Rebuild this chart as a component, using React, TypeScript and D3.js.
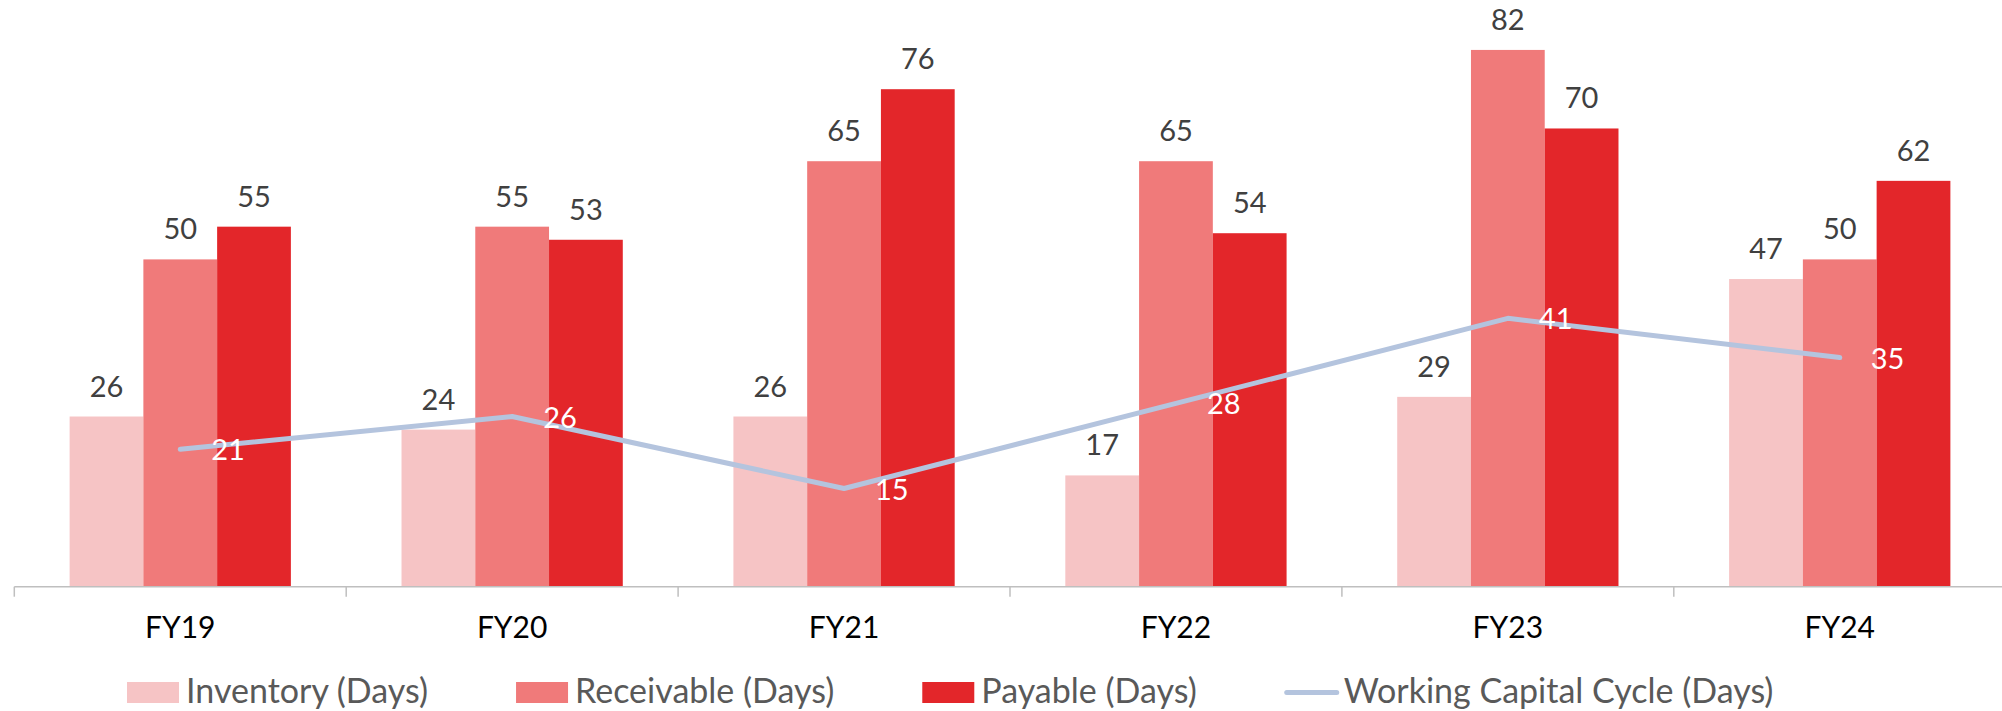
import { useEffect, useRef } from 'react';
import * as d3 from 'd3';

const categories = ['FY19', 'FY20', 'FY21', 'FY22', 'FY23', 'FY24'];
const inventoryDays = [26, 24, 26, 17, 29, 47];
const receivableDays = [50, 55, 65, 65, 82, 50];
const payableDays = [55, 53, 76, 54, 70, 62];
const wccDays = [21, 26, 15, 28, 41, 35];

const barSeries = [
  { key: 'inv', name: 'Inventory (Days)', values: inventoryDays, color: '#f6c4c5' },
  { key: 'rec', name: 'Receivable (Days)', values: receivableDays, color: '#f07a7a' },
  { key: 'pay', name: 'Payable (Days)', values: payableDays, color: '#e3262a' },
];
const lineName = 'Working Capital Cycle (Days)';
const lineColor = '#b4c4de';

const FONT = 'Lato, "Open Sans", sans-serif';

export default function App() {
  const svgRef = useRef<SVGSVGElement>(null);

  useEffect(() => {
    document.body.style.margin = '0';
    document.body.style.overflow = 'hidden';

    const W = 2002, H = 711;
    const svg = d3.select(svgRef.current);
    svg.selectAll('*').remove();
    svg.attr('width', W).attr('height', H).attr('viewBox', `0 0 ${W} ${H}`);

    const left = 14.3, step = 331.9;
    const baseY = 586.7;

    const x = d3.scaleBand<string>().domain(categories).range([left, left + step * categories.length]).padding(0);
    const xs = d3.scaleBand<string>()
      .domain(barSeries.map(s => s.key))
      .range([0, x.bandwidth()])
      .paddingInner(0)
      .paddingOuter(0.75);
    const y = d3.scaleLinear().domain([0, 90]).range([baseY, baseY - 90 * 6.546]);

    const g = svg.append('g');

    // bars
    barSeries.forEach(s => {
      g.selectAll(`rect.${s.key}`)
        .data(categories)
        .join('rect')
        .attr('class', s.key)
        .attr('x', c => x(c)! + xs(s.key)!)
        .attr('y', (c, i) => y(s.values[i]))
        .attr('width', xs.bandwidth())
        .attr('height', (c, i) => baseY - y(s.values[i]))
        .attr('fill', s.color);
    });

    // axis
    g.append('line')
      .attr('x1', left).attr('x2', W)
      .attr('y1', baseY).attr('y2', baseY)
      .attr('stroke', '#bfbfbf').attr('stroke-width', 1.5);
    d3.range(categories.length + 1).forEach(i => {
      const tx = left + step * i;
      g.append('line')
        .attr('x1', tx).attr('x2', tx)
        .attr('y1', baseY).attr('y2', baseY + 10)
        .attr('stroke', '#bfbfbf').attr('stroke-width', 1.5);
    });
    g.selectAll('text.cat')
      .data(categories)
      .join('text')
      .attr('class', 'cat')
      .attr('x', c => x(c)! + x.bandwidth() / 2)
      .attr('y', 638.3)
      .attr('text-anchor', 'middle')
      .attr('font-family', FONT).attr('font-size', 30).attr('fill', '#000')
      .text(c => c);

    // bar value labels
    barSeries.forEach(s => {
      g.selectAll(`text.lbl-${s.key}`)
        .data(categories)
        .join('text')
        .attr('class', `lbl-${s.key}`)
        .attr('x', c => x(c)! + xs(s.key)! + xs.bandwidth() / 2)
        .attr('y', (c, i) => y(s.values[i]) - 20)
        .attr('text-anchor', 'middle')
        .attr('font-family', FONT).attr('font-size', 29).attr('fill', '#404040')
        .text((c, i) => s.values[i]);
    });

    // working capital line
    const cx = (c: string) => x(c)! + x.bandwidth() / 2;
    const line = d3.line<number>()
      .x((d, i) => cx(categories[i]))
      .y(d => y(d));
    g.append('path')
      .datum(wccDays)
      .attr('d', line)
      .attr('fill', 'none')
      .attr('stroke', lineColor)
      .attr('stroke-width', 5)
      .attr('stroke-linecap', 'round')
      .attr('stroke-linejoin', 'round');
    g.selectAll('text.wcc')
      .data(wccDays)
      .join('text')
      .attr('class', 'wcc')
      .attr('x', (d, i) => cx(categories[i]) + 31)
      .attr('y', d => y(d) + 11)
      .attr('font-family', FONT).attr('font-size', 29).attr('fill', '#fff')
      .text(d => d);

    // legend
    const leg = svg.append('g');
    let lx = 127;
    const legY = 692.5;
    const items = [
      ...barSeries.map(s => ({ name: s.name, color: s.color, isLine: false })),
      { name: lineName, color: lineColor, isLine: true },
    ];
    items.forEach(it => {
      if (it.isLine) {
        leg.append('line')
          .attr('x1', lx + 2).attr('x2', lx + 52)
          .attr('y1', legY).attr('y2', legY)
          .attr('stroke', it.color).attr('stroke-width', 5).attr('stroke-linecap', 'round');
      } else {
        leg.append('rect')
          .attr('x', lx).attr('y', legY - 10.5)
          .attr('width', 52).attr('height', 21)
          .attr('fill', it.color);
      }
      const t = leg.append('text')
        .attr('x', lx + 59).attr('y', 703.3)
        .attr('font-family', FONT).attr('font-size', 34).attr('fill', '#595959')
        .text(it.name);
      const w = (t.node() as SVGTextElement).getComputedTextLength();
      lx += 59 + w + 88;
    });
  }, []);

  return <svg ref={svgRef} style={{ position: 'absolute', left: 0, top: 0, display: 'block' }} />;
}
